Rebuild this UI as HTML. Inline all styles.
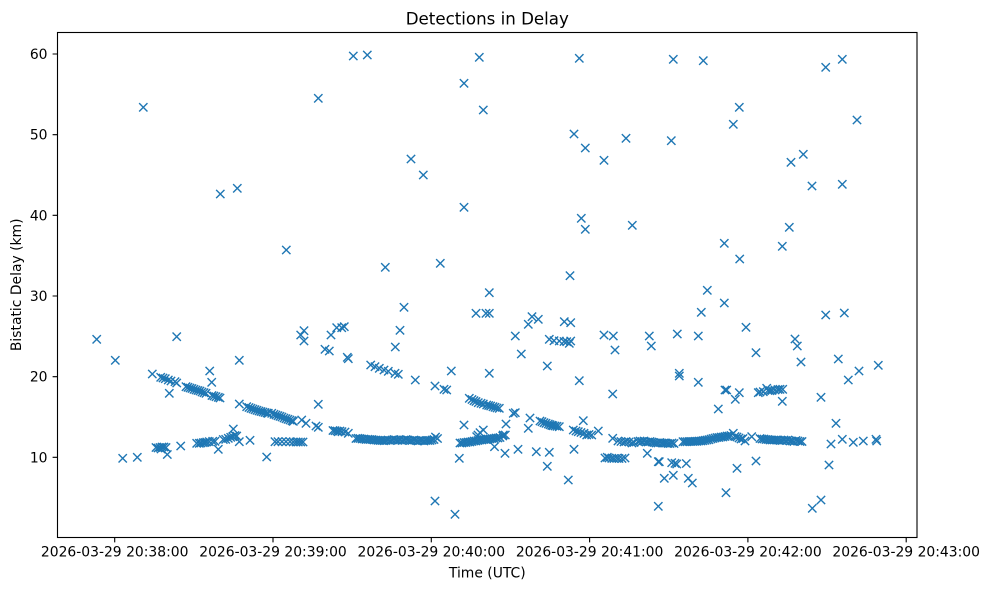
<!DOCTYPE html>
<html>
<head>
<meta charset="utf-8">
<style>
html,body{margin:0;padding:0;background:#fff;}
svg{display:block;}
text{font-family:"DejaVu Sans","Liberation Sans",sans-serif;fill:#000;}
</style>
</head>
<body>
<svg width="988" height="590" viewBox="0 0 988 590" xmlns="http://www.w3.org/2000/svg">
<defs>
<marker id="x" markerUnits="userSpaceOnUse" markerWidth="10" markerHeight="10" refX="0" refY="0" orient="0" overflow="visible">
<path d="M-4.17,-4.17L4.17,4.17M-4.17,4.17L4.17,-4.17" stroke="#1f77b4" stroke-width="1.39" fill="none"/>
</marker>
</defs>
<rect x="0" y="0" width="988" height="590" fill="#fff"/>
<g fill="none" stroke="none" marker-start="url(#x)" marker-mid="url(#x)" marker-end="url(#x)">
<polyline points="96.7,339.3 115.3,360.3 122.7,458.3 137.3,457.3 143.3,107.3 152.3,374 160.7,377.3 163,378 165.3,378.7 168.3,380 171,381 175,381.7 176.7,383 169.3,393.3 176.7,336.7 156,447.5 158,448 160,447.5 162,447 164,447 166,447.5 161,449 167.3,454.5 180.7,446 186,386.7 188,387.3 190,388 192,388.5 194,389.3 196,390 198,390.5 200,391 202,392 204,392.7 206,393.3 209.7,371 211.7,382.3 212,395.5 214,396 216,396.7 218.3,397.3 220,398 196.7,443.3 199.3,443.3 201,443 203.3,442.7 205,442.5 206.7,442 209.3,441.7 212.7,441.3 215,441.3 218.3,449.3 220.3,194 223.3,439.5 225.7,439.3 228.3,438.3 230.7,437.3 232.7,436.7 235,435.5 236.7,436 233.3,429 237.3,188.3 239.3,441.7 239.3,360.3 239.3,404"/>
<polyline points="246.7,406.7 249,407.5 251,408.3 253,409 255,409.7 257,410.3 259,411 261,411.5 263,412 265,412.5 267,413 268.3,413.3 250,440.3 266.7,457 271.7,413.3 274,414.3 276,415 278,415.7 280,416.3 282,417 284,418 286,418.7 288,419.3 290,420 292,420.7 293.3,421.3 275,441.7 278,441.7 282,441.7 286,441.7 290,441.7 293.3,442 296,442 298.3,442 300.7,442 303,442 286.3,250 301.7,420 306,423.3 300.7,335 304,330.7 304,341 316,426 318.3,427.3 318.3,404.3 318.3,98.3 325,349.3 329.3,351 331,335 336.7,327.7 341.7,327.7 344.3,326.7 347.3,357.3 348.3,358.7 333,430.5 335,430.7 337,431 338.3,431.7 340,431 342,431.7 345,432 348.3,433.3 353.3,56 367.3,55"/>
<polyline points="370.7,365 375,366.7 379.3,368.3 384,370 388.3,371.3 395,373.3 398.3,374.3 395.3,347 400,330.3 404,307.3 385.3,267.3 411,159 423.3,175 415.3,380 435,386 444,389.3 446.7,390 451.3,371 356,438.5 358,438.3 360,438.5 362,439 364,439 366,439.5 368,439.3 370,439.5 372,439.5 374,440 376,440 378,440.3 380,440.5 382,440.5 384,440.7 386,440.5 388,440 390,440.5 392,440 394,439.5 396,440 398,440.3 400,439.8 402,440.5 404,440 406,439.5 408,440 410,440.5 412,440.5 414,440 416,440.5 418,441 420,440.5 422,440.5 424,441 426,440.5 428,440.5 430,440.5 432,440 434,439.5 435.5,437 437.5,438.5"/>
<polyline points="459.3,458.3 455,514.3 435,501 440.3,263.3 464,83.3 464,207.3 464,425 460,443 462,443 464,442.5 466,442.5 468,442 470,442 472,441.5 474,441 476,441 478,440.5 480,440 482,440 484,439.5 486,439.5 488,439 490,439 492,438.5 494,438.5 496,438 498,438 500,437.5 476.7,436.7 478,435 480,432.7 483.3,430 486.7,439.3 494.5,446.7 502.7,436 505.3,435 503.3,435 505,453.3 506,424 469.3,398.3 472,399.5 474,400.7 476,401.5 478.3,402.7 481,403.3 483.3,404 486.7,405 488.7,405.5 490.7,406 493,406.7 495,407.3 497,408 499.3,408.3 476,313.3 486,313.3 489.3,313.3 489.3,292.7 489.3,373.3 479.3,57.3 483.3,110"/>
<polyline points="513.3,413.3 515.3,412.7 518,449.3 515.3,336 521.3,354 528.3,324.3 532,316.7 538.3,319.3 528.3,428.3 530,418 536.3,451.7 540,421 542,421.7 544,422.7 546,423.3 548.3,424 550,424.7 551.7,425.3 553,425.7 555,426 557,426.3 559.3,426.7 549.3,452.3 547.3,466.3 547.3,366 549.3,339.3 554,340.7 559.3,341 564,341.5 566.7,341.7 569.3,343.3 570.7,341 564.3,321.7 570.7,322.7 568.3,480 570,275.7 574,449.3 574,134 579.3,380.7 579.3,58.3 573.3,430 576,431 578.3,431.7 581,432.5 584,433.3 586.7,435 589,434.5 591.7,435 598.3,431 583.3,420.7 581.3,218.3 585.3,229.3 585.3,148 604,160.3 604,335 613.3,336 615,350 612.7,394 612.7,438.3"/>
<polyline points="605,458 607.3,457.3 609,458 611.7,458.3 614,458.5 616.7,458.3 619,458.5 622,458.5 625,458 618,441 621,441.5 624,442 626,441.5 629,442 632,443 634,442.5 638,441.5 640,441 642,441.5 644,441 646,442 648,442 650,441.5 652,442 654,442.5 656,443 658,443 660,442.5 662,443 664,443 666,443 668,443.5 670,443.5 672,443 674,443.5 647.3,453.3 626,138.3 632.3,225.3 649.3,336 651.3,346 659.3,461.7 658.3,461.7 671.7,462.7 675,463.3 676.7,464 686.3,463.5 664.3,478.3 673.3,475.3 688.3,478.3 692.3,483 658.3,506.3 673.3,59.3 671.3,140.7 677.3,334 679.3,373.3 679.3,376 698.3,336 698.3,382.3 701.3,312.3 703.3,60.7 707.3,290.3"/>
<polyline points="683,441.7 685,441.7 687,441.7 689,441.5 691,441.5 693,441.5 695,441.3 697,441.3 699,441 701,441 703,440.7 705,440.3 707,440 709,439.7 711,439 713,438.5 715,438 717,437.5 719,437.5 721,437 723,437 725,436.5 727,436 729,436 731,435.5 733.3,433.3 735,436.5 737,437 739,438 741,439 743,438.5 745,441 751.7,436.7 760,438.5 762,439 764,439 766,439.5 768,439.5 770,440 772,440 774,440 776,440 778,440 780,440.5 782,440.5 784,440 786,440.5 788,440 790,441 792,441 794,441.5 796,440.5 798,441 800,441.5 802,441.5"/>
<polyline points="718.3,409 724.3,303 724.3,243.3 725,390 726.7,390 726,492.7 733.3,124.3 735.3,399.3 737,468.3 739.3,392.7 739.3,107.3 739.7,259 746,327.3 756,352.7 756,461 758.3,392.7 760,392 763.3,391.7 766.7,388.3 768,390.5 770,390.7 772,390.5 775,390 778,389.5 780,389.3 782.7,389.3 782.3,401.3 782.3,246.3 789.3,227.3 791,162.3 803.3,154.3 795,339 797.3,346 801,362 812,186 821,397.3 825.7,315 825.7,67.3 829,465 821,500 812.3,508.3 831,444 836,423.3 838.3,359 842.3,439.3 842.3,184.3 842.3,59.3 844.3,313 848.3,380 853.3,442.3 857,120 859,371 863.3,441 876,439.3 876.7,441 878.3,365.3"/>
</g>
<rect x="57.5" y="32.5" width="859.5" height="505" fill="none" stroke="#000" stroke-width="1.11"/>
<path stroke="#000" stroke-width="1.11" fill="none" d="M114.7,537.5V542.4M273,537.5V542.4M431.3,537.5V542.4M589.6,537.5V542.4M747.9,537.5V542.4M906.2,537.5V542.4M52.6,457.3H57.5M52.6,376.7H57.5M52.6,296H57.5M52.6,215.3H57.5M52.6,134.7H57.5M52.6,54H57.5"/>
<g font-size="13.9" text-anchor="middle">
<text x="114.7" y="556.5">2026-03-29 20:38:00</text>
<text x="273" y="556.5">2026-03-29 20:39:00</text>
<text x="431.3" y="556.5">2026-03-29 20:40:00</text>
<text x="589.6" y="556.5">2026-03-29 20:41:00</text>
<text x="747.9" y="556.5">2026-03-29 20:42:00</text>
<text x="906.2" y="556.5">2026-03-29 20:43:00</text>
</g>
<g font-size="13.9" text-anchor="end">
<text x="47.5" y="462.3">10</text>
<text x="47.5" y="381.7">20</text>
<text x="47.5" y="301">30</text>
<text x="47.5" y="220.3">40</text>
<text x="47.5" y="139.7">50</text>
<text x="47.5" y="59">60</text>
</g>
<text x="487.3" y="577.5" font-size="13.9" text-anchor="middle">Time (UTC)</text>
<text transform="translate(21,284.8) rotate(-90)" font-size="13.9" text-anchor="middle">Bistatic Delay (km)</text>
<text x="487.3" y="24.5" font-size="16.67" text-anchor="middle">Detections in Delay</text>
</svg>
</body>
</html>
